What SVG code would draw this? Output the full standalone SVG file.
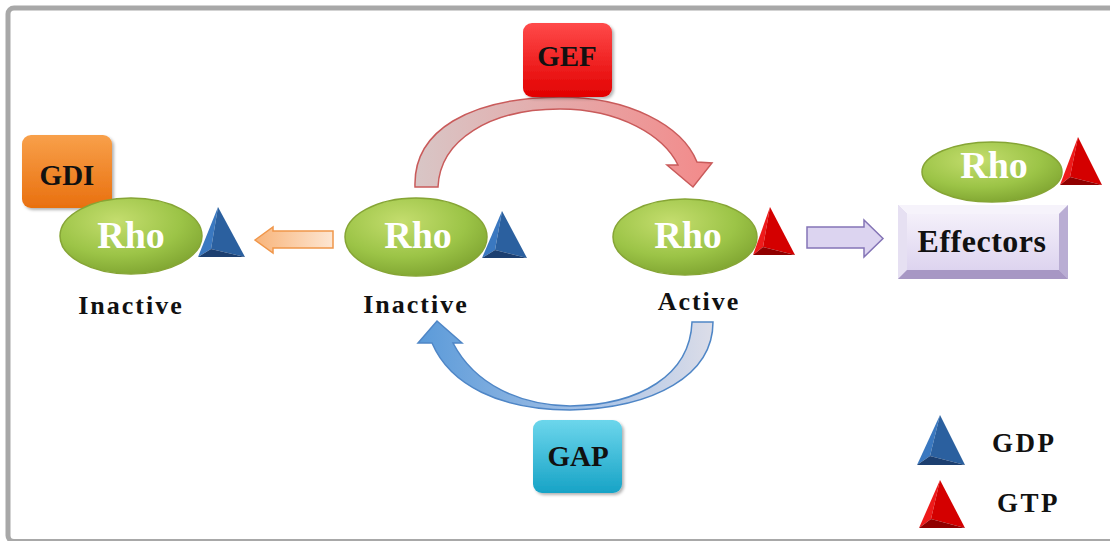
<svg xmlns="http://www.w3.org/2000/svg" width="1110" height="541" viewBox="0 0 1110 541">
<style>
.lbl{font-family:"Liberation Serif","Times New Roman",serif;font-weight:bold;fill:#111;}
.rho{font-family:"Liberation Serif","Times New Roman",serif;font-weight:bold;fill:#fff;font-size:38px;text-anchor:middle;}
.state{font-size:26px;letter-spacing:2px;text-anchor:middle;}
.box{font-size:29px;text-anchor:middle;}
.ell{fill:url(#gGreen);stroke:#86a535;stroke-width:1.5;}
</style>
<defs>
<radialGradient id="gGreen" cx="0.4" cy="0.3" r="0.75">
<stop offset="0" stop-color="#c4dd6e"/><stop offset="0.6" stop-color="#9cc447"/><stop offset="1" stop-color="#7ea330"/>
</radialGradient>
<linearGradient id="gRed" x1="0" y1="0" x2="0" y2="1"><stop offset="0" stop-color="#ff4a4a"/><stop offset="1" stop-color="#e20000"/></linearGradient>
<linearGradient id="gOrange" x1="0" y1="0" x2="0" y2="1"><stop offset="0" stop-color="#f8a04a"/><stop offset="1" stop-color="#e9700f"/></linearGradient>
<linearGradient id="gCyan" x1="0" y1="0" x2="0" y2="1"><stop offset="0" stop-color="#6cd6ec"/><stop offset="1" stop-color="#17a3c6"/></linearGradient>
<linearGradient id="gLav" x1="0" y1="0" x2="0" y2="1"><stop offset="0" stop-color="#f4f0fa"/><stop offset="1" stop-color="#ddd4ef"/></linearGradient>
<linearGradient id="gGef" x1="0" y1="0" x2="1" y2="0"><stop offset="0" stop-color="#d8c6c6"/><stop offset="1" stop-color="#f38a8a"/></linearGradient>
<linearGradient id="gGap" x1="0" y1="0" x2="1" y2="0"><stop offset="0" stop-color="#5a9ad9"/><stop offset="0.6" stop-color="#a9c3e6"/><stop offset="1" stop-color="#dcdde8"/></linearGradient>
<linearGradient id="gOrArrow" x1="0" y1="0" x2="1" y2="0"><stop offset="0" stop-color="#f8b47a"/><stop offset="1" stop-color="#fde6d2"/></linearGradient>
<filter id="sh" x="-10%" y="-10%" width="130%" height="130%"><feDropShadow dx="2" dy="2" stdDeviation="1.5" flood-color="#000" flood-opacity="0.3"/></filter>
</defs>

<rect x="8" y="8" width="1110" height="533.5" rx="6" fill="#fff" stroke="#a8a8a8" stroke-width="5"/>

<g id="connectors">
<path id="gef-arrow" d="M 415,187 C 413,130 470,98 560,97 C 628,97 682,125 697,162 L 712,163 L 693,187 L 667,165 L 678,165 C 664,136 620,109 560,109 C 490,109 440,140 438,187 Z" fill="url(#gGef)" stroke="#c95b5b" stroke-width="1.5"/>
<path id="gap-arrow" d="M 713,322 C 713,375 655,408 570,410 C 500,410 450,385 432,343 L 418,343 L 437,321 L 462,343 L 453,343 C 475,385 520,405 570,406 C 640,405 690,375 692,322 Z" fill="url(#gGap)" stroke="#4f86c6" stroke-width="1.5"/>
<path id="gdi-arrow" d="M 255,240 L 273,227 L 273,231 L 333,231 L 333,248 L 273,248 L 273,253 Z" fill="url(#gOrArrow)" stroke="#f0964a" stroke-width="1.5"/>
<path id="eff-arrow" d="M 807,227 L 864,227 L 864,220 L 883,238.5 L 864,257 L 864,248 L 807,248 Z" fill="#dcd4f0" stroke="#8474b6" stroke-width="1.5"/>
</g>

<g id="gdi">
<rect x="22" y="135" width="90" height="73" rx="9" fill="url(#gOrange)" filter="url(#sh)"/>
<text class="lbl box" x="67" y="185">GDI</text>
</g>

<g id="rho-gdi">
<ellipse class="ell" cx="131" cy="236" rx="71" ry="38"/>
<text class="rho" x="131" y="248">Rho</text>
<polygon points="218,207 198,257 211,249" fill="#3a78c0"/>
<polygon points="218,207 211,249 245,257" fill="#2b609f"/>
<polygon points="198,257 211,249 245,257" fill="#1c3f70"/>
<text class="lbl state" x="131" y="314">Inactive</text>
</g>

<g id="rho-inactive">
<ellipse class="ell" cx="416" cy="237" rx="71" ry="39"/>
<text class="rho" x="418" y="248">Rho</text>
<polygon points="502,211 482,258 495,250" fill="#3a78c0"/>
<polygon points="502,211 495,250 527,258" fill="#2b609f"/>
<polygon points="482,258 495,250 527,258" fill="#1c3f70"/>
<text class="lbl state" x="416" y="313">Inactive</text>
</g>

<g id="rho-active">
<ellipse class="ell" cx="685" cy="237" rx="72" ry="38"/>
<text class="rho" x="688" y="248">Rho</text>
<polygon points="770,207 753,255 763,247" fill="#ee1a1a"/>
<polygon points="770,207 763,247 795,255" fill="#d40000"/>
<polygon points="753,255 763,247 795,255" fill="#900000"/>
<text class="lbl state" x="699" y="310">Active</text>
</g>

<g id="gef">
<rect x="523" y="23" width="89" height="74" rx="9" fill="url(#gRed)" filter="url(#sh)"/>
<text class="lbl box" x="567" y="66">GEF</text>
</g>

<g id="gap">
<rect x="533" y="420" width="89" height="73" rx="9" fill="url(#gCyan)" filter="url(#sh)"/>
<text class="lbl box" x="578" y="466">GAP</text>
</g>

<g id="effectors">
<rect x="898" y="205" width="170" height="74" fill="#d6cdea"/>
<polygon points="898,205 1068,205 1059,214 907,214" fill="#f6f3fb"/>
<polygon points="898,205 907,214 907,270 898,279" fill="#e6e0f2"/>
<polygon points="1068,205 1068,279 1059,270 1059,214" fill="#b9add3"/>
<polygon points="898,279 907,270 1059,270 1068,279" fill="#a797c4"/>
<rect x="907" y="214" width="152" height="56" fill="url(#gLav)"/>
<text class="lbl" x="982" y="252" font-size="32" letter-spacing="0.5" text-anchor="middle">Effectors</text>
</g>

<g id="rho-effector">
<ellipse class="ell" cx="992" cy="172" rx="70" ry="30"/>
<text class="rho" x="994" y="178">Rho</text>
<polygon points="1078,137 1060,185 1070,177" fill="#ee1a1a"/>
<polygon points="1078,137 1070,177 1102,185" fill="#d40000"/>
<polygon points="1060,185 1070,177 1102,185" fill="#900000"/>
</g>

<g id="legend">
<polygon points="940,415 917,465 930,456" fill="#3a78c0"/>
<polygon points="940,415 930,456 965,465" fill="#2b609f"/>
<polygon points="917,465 930,456 965,465" fill="#1c3f70"/>
<text class="lbl" x="992" y="452" font-size="27" letter-spacing="2.5">GDP</text>
<polygon points="940,480 919,528 931,519" fill="#ee1a1a"/>
<polygon points="940,480 931,519 965,528" fill="#d40000"/>
<polygon points="919,528 931,519 965,528" fill="#900000"/>
<text class="lbl" x="997" y="512" font-size="27" letter-spacing="2.5">GTP</text>
</g>
</svg>
